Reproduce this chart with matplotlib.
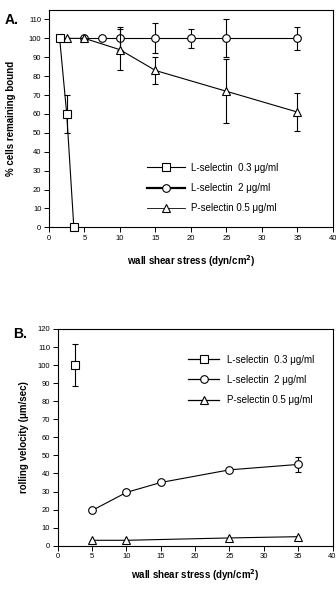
import numpy as np
import matplotlib.pyplot as plt
from matplotlib.lines import Line2D

plt.rcParams['font.family'] = ['Liberation Sans', 'DejaVu Sans']

# panel A: % cells remaining bound
a_l03_x = [1.5, 2.5, 3.5]
a_l03_y = [100, 60, 0]
a_l03_err = [0, 10, 0]

a_l2_x = [5, 7.5, 10, 15, 20, 25, 35]
a_l2_y = [100, 100, 100, 100, 100, 100, 100]
a_l2_err = [0, 0, 6, 8, 5, 10, 6]

a_p05_x = [2.5, 5, 10, 15, 25, 35]
a_p05_y = [100, 100, 94, 83, 72, 61]
a_p05_err = [0, 0, 11, 7, 17, 10]

# panel B: rolling velocity
b_l03_x = [2.5]
b_l03_y = [100]
b_l03_err = [11.5]

b_l2_x = [5, 10, 15, 25, 35]
b_l2_y = [19.5, 29.5, 35, 42, 45]
b_l2_err = [0, 0, 0, 0, 4]

b_p05_x = [5, 10, 25, 35]
b_p05_y = [3, 3, 4.3, 5]

labels = ['L-selectin  0.3 \u03bcg/ml', 'L-selectin  2 \u03bcg/ml', 'P-selectin 0.5 \u03bcg/ml']
xticks = np.arange(0, 41, 5)

fig = plt.figure(figsize=(3.36, 5.89), dpi=100)
axA = fig.add_axes([0.1458, 0.614, 0.845, 0.369])
axB = fig.add_axes([0.1717, 0.0735, 0.818, 0.368])

mk = dict(mfc='white', mec='black', ms=5.5, mew=0.8, color='black', lw=0.8,
          ecolor='black', elinewidth=0.8, capsize=2.5, capthick=0.8)

axA.errorbar(a_l2_x, a_l2_y, yerr=a_l2_err, fmt='-o', zorder=3, **mk)
axA.errorbar(a_p05_x, a_p05_y, yerr=a_p05_err, fmt='-^', zorder=4, **mk)
sq = axA.errorbar(a_l03_x, a_l03_y, yerr=a_l03_err, fmt='-s', zorder=5, **mk)
sq[0].set_clip_on(False)

axB.errorbar(b_l03_x, b_l03_y, yerr=b_l03_err, fmt='s', zorder=5, **mk)
axB.errorbar(b_l2_x, b_l2_y, yerr=b_l2_err, fmt='-o', zorder=4, **mk)
axB.plot(b_p05_x, b_p05_y, '-^', color='black', mfc='white', mec='black', ms=5.5, mew=0.8, lw=0.8, zorder=4)

for ax, ymax, ytop in [(axA, 110, 115), (axB, 120, 120)]:
    ax.set_xlim(0, 40)
    ax.set_ylim(0, ytop)
    ax.set_xticks(xticks)
    ax.set_yticks(np.arange(0, ymax + 1, 10))
    ax.tick_params(labelsize=5.5, length=3.5, width=0.7, pad=2)
    for s in ax.spines.values():
        s.set_linewidth(0.8)

axA.set_xlabel('wall shear stress (dyn/cm$^\\mathbf{2}$)', fontsize=7, fontweight='bold', labelpad=8)
axB.set_xlabel('wall shear stress (dyn/cm$^\\mathbf{2}$)', fontsize=7, fontweight='bold', labelpad=5)
axA.set_ylabel('% cells remaining bound', fontsize=7, fontweight='bold', labelpad=9)
axB.set_ylabel('rolling velocity (\u03bcm/sec)', fontsize=7, fontweight='bold', labelpad=6)

fig.text(0.015, 0.966, 'A.', fontsize=10, fontweight='bold', va='center')
fig.text(0.04, 0.433, 'B.', fontsize=10, fontweight='bold', va='center')

def handles(widths):
    hs = []
    for m, w in zip(['s', 'o', '^'], widths):
        hs.append(Line2D([], [], color='black', lw=w, marker=m, mfc='white', mec='black', ms=5.5, mew=0.8))
    return hs

legA = axA.legend(handles([0.8, 1.6, 0.6]), labels, loc='upper left', bbox_to_anchor=(0.33, 0.315),
                  frameon=False, fontsize=7, handlelength=4.0, handletextpad=0.6, labelspacing=1.05,
                  borderaxespad=0)
legB = axB.legend(handles([0.9, 0.9, 0.9]), labels, loc='upper left', bbox_to_anchor=(0.46, 0.9),
                  frameon=False, fontsize=7, handlelength=3.2, handletextpad=0.8, labelspacing=1.05,
                  borderaxespad=0)

fig.savefig('out.png', dpi=100)
